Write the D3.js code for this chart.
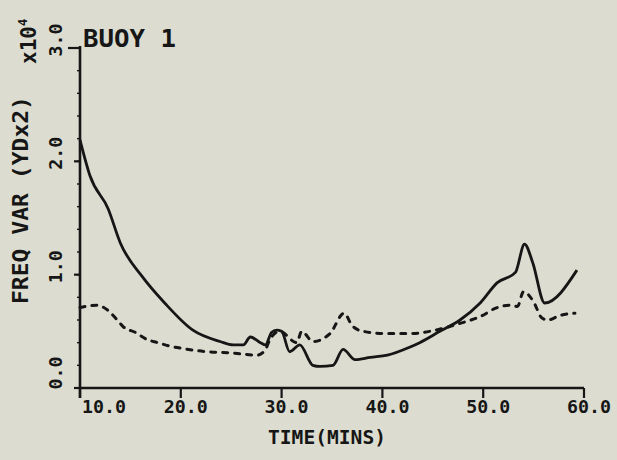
<!DOCTYPE html>
<html>
<head>
<meta charset="utf-8">
<script src="https://cdn.jsdelivr.net/npm/d3@7"></script>
<style>
  html, body { margin: 0; padding: 0; background: #dcddd0; }
  svg text { font-family: "DejaVu Sans Mono", monospace; font-weight: bold; fill: #161616; }
</style>
</head>
<body>
<div id="chart"></div>
<script>
// time (mins) and freq variance (x10^4 yd^2)
var solidTime = [10.0, 11.0, 12.8, 14.0, 16.2, 18.4, 21.2, 23.9, 25.2, 26.2, 26.9, 27.9, 28.4, 29.0, 29.5, 30.0,
  30.8, 31.8, 33.1, 33.8, 35.1, 36.1, 37.3, 38.8, 40.5, 42.7, 43.7, 45.7, 47.7, 49.7, 51.4, 53.2, 54.1, 54.9, 56.1, 59.3];
var solidVar = [2.19, 1.87, 1.58, 1.28, 0.98, 0.75, 0.51, 0.41, 0.38, 0.38, 0.45, 0.40, 0.38, 0.49, 0.51, 0.50,
  0.32, 0.38, 0.20, 0.19, 0.20, 0.34, 0.25, 0.27, 0.29, 0.36, 0.40, 0.50, 0.60, 0.75, 0.93, 1.02, 1.27, 1.11, 0.75, 1.04];

var dashTime = [10.0, 11.7, 12.7, 13.7, 14.3, 15.5, 16.6, 17.7, 18.9, 20.1, 22.6, 24.9, 27.6, 28.4, 28.8, 29.3, 29.8,
  31.5, 32.0, 33.1, 34.8, 36.2, 37.0, 38.1, 40.5, 42.7, 44.7, 45.7, 47.7, 49.7, 51.4, 52.7, 53.4, 54.0, 55.0, 55.8, 56.4, 57.6, 59.1];
var dashVar = [0.71, 0.73, 0.69, 0.60, 0.54, 0.49, 0.43, 0.40, 0.37, 0.35, 0.32, 0.31, 0.29, 0.34, 0.42, 0.48, 0.50,
  0.40, 0.50, 0.41, 0.48, 0.66, 0.55, 0.50, 0.48, 0.48, 0.50, 0.52, 0.57, 0.63, 0.71, 0.73, 0.72, 0.85, 0.76, 0.62, 0.60, 0.64, 0.66];

var xTicks = [10, 20, 30, 40, 50, 60];
var yTicks = [0, 1, 2, 3];

var width = 617;
var height = 460;
var ink = "#161616";

var x = d3.scaleLinear().domain([10, 60]).range([80, 584]);
var y = d3.scaleLinear().domain([0, 3]).range([388, 48]);

var svg = d3.select("#chart").append("svg")
  .attr("width", width)
  .attr("height", height);

svg.append("rect").attr("width", width).attr("height", height).attr("fill", "#dcddd0");

/* axes */
var xAxis = svg.append("g");
xAxis.append("line")
  .attr("x1", x(10)).attr("x2", x(60))
  .attr("y1", y(0)).attr("y2", y(0))
  .attr("stroke", ink).attr("stroke-width", 2.6);
xAxis.selectAll(".xt").data(xTicks).enter().append("line")
  .attr("x1", d => x(d)).attr("x2", d => x(d))
  .attr("y1", y(0)).attr("y2", y(0) + 10)
  .attr("stroke", ink).attr("stroke-width", 2.2);
xAxis.selectAll(".xl").data(xTicks).enter().append("text")
  .attr("x", d => d === 10 ? x(d) + 2 : x(d) + 5)
  .attr("y", 413)
  .attr("text-anchor", d => d === 10 ? "start" : "middle")
  .attr("font-size", 18)
  .attr("textLength", 44)
  .attr("lengthAdjust", "spacingAndGlyphs")
  .text(d => d3.format(".1f")(d));

var yAxis = svg.append("g");
yAxis.append("line")
  .attr("x1", x(10)).attr("x2", x(10))
  .attr("y1", y(3) - 2).attr("y2", y(0) + 10)
  .attr("stroke", ink).attr("stroke-width", 2.6);
yAxis.selectAll(".ym").data(d3.range(0, 3.01, 0.2)).enter().append("line")
  .attr("x1", x(10) - 3).attr("x2", x(10))
  .attr("y1", d => y(d)).attr("y2", d => y(d))
  .attr("stroke", ink).attr("stroke-width", 1.4);
yAxis.selectAll(".yt").data(yTicks).enter().append("line")
  .attr("x1", d => d === 3 ? x(10) - 12 : x(10) - 6).attr("x2", x(10))
  .attr("y1", d => y(d)).attr("y2", d => y(d))
  .attr("stroke", ink).attr("stroke-width", 2.2);
yAxis.selectAll(".yl").data(yTicks).enter().append("text")
  .attr("transform", d => `translate(62, ${y(d) - (d === 0 ? 15 : 8)}) rotate(-90)`)
  .attr("text-anchor", "middle")
  .attr("font-size", 18)
  .attr("textLength", 33)
  .attr("lengthAdjust", "spacingAndGlyphs")
  .text(d => d3.format(".1f")(d));

/* titles */
svg.append("text")
  .attr("x", 83).attr("y", 47)
  .attr("font-size", 24)
  .attr("textLength", 93)
  .attr("lengthAdjust", "spacingAndGlyphs")
  .text("BUOY 1");

svg.append("text")
  .attr("x", 327).attr("y", 444)
  .attr("text-anchor", "middle")
  .attr("font-size", 20)
  .attr("textLength", 118)
  .attr("lengthAdjust", "spacingAndGlyphs")
  .text("TIME(MINS)");

svg.append("text")
  .attr("transform", "translate(28, 200) rotate(-90)")
  .attr("text-anchor", "middle")
  .attr("font-size", 21)
  .attr("textLength", 208)
  .attr("lengthAdjust", "spacingAndGlyphs")
  .text("FREQ VAR (YDx2)");

var mult = svg.append("text")
  .attr("transform", "translate(36, 64) rotate(-90)")
  .attr("font-size", 21)
  .text("x10");
mult.append("tspan")
  .attr("dy", -9)
  .attr("font-size", 12)
  .text("4");

/* curves */
var line = d3.line()
  .curve(d3.curveMonotoneX)
  .x(d => x(d[0]))
  .y(d => y(d[1]));

var solid = d3.zip(solidTime, solidVar);
var dashed = d3.zip(dashTime, dashVar);

svg.append("path")
  .datum(solid)
  .attr("d", line)
  .attr("fill", "none")
  .attr("stroke", ink)
  .attr("stroke-width", 2.8)
  .attr("stroke-linejoin", "round");

svg.append("path")
  .datum(dashed)
  .attr("d", line)
  .attr("fill", "none")
  .attr("stroke", ink)
  .attr("stroke-width", 3)
  .attr("stroke-linecap", "round")
  .attr("stroke-dasharray", "5,7");
</script>
</body>
</html>
